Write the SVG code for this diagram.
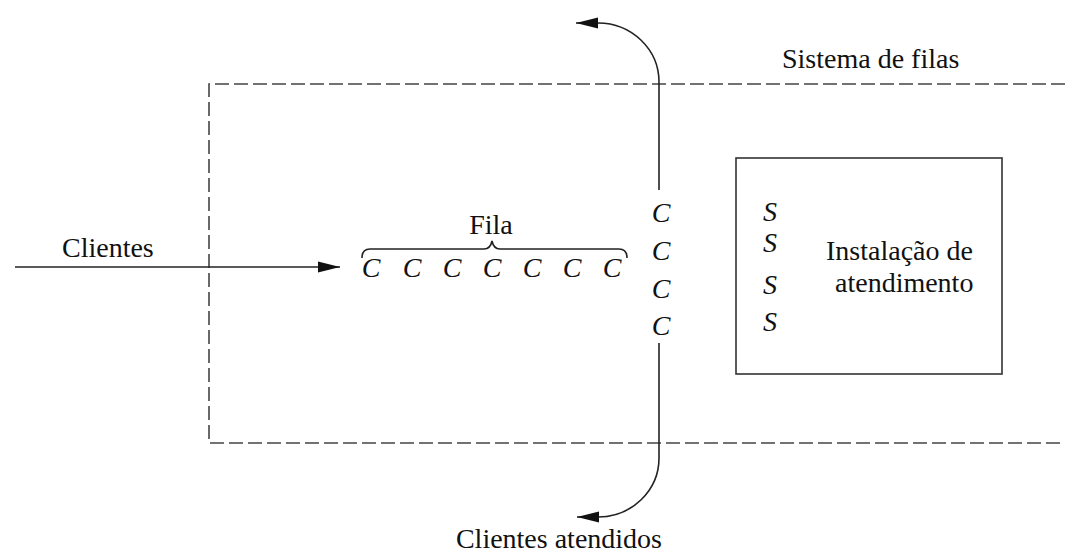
<svg xmlns="http://www.w3.org/2000/svg" width="1065" height="556" viewBox="0 0 1065 556">
<style>
text{font-family:"Liberation Serif","Times New Roman",Times,serif;font-size:28px;fill:#111}
.it{font-style:italic}
.ln{fill:none;stroke:#222;stroke-width:1.6}
.dash{fill:none;stroke:#444;stroke-width:1.6;stroke-dasharray:14 5}
</style>
<defs>
<marker id="ah" markerWidth="24" markerHeight="12" refX="22" refY="6" orient="auto" markerUnits="userSpaceOnUse">
<path d="M0,0.5 L22,6 L0,11.5 Z" fill="#111"/>
</marker>
</defs>
<rect width="1065" height="556" fill="#fff"/>
<g id="sistema">
<path class="dash" d="M1065,84 H209 V443 H1065"/>
<text x="782" y="68">Sistema de filas</text>
</g>
<g id="connectors">
<line class="ln" x1="15" y1="267" x2="340" y2="267" marker-end="url(#ah)"/>
<path class="ln" d="M659,190 V82 A61,59 0 0 0 598,23 H576" marker-end="url(#ah)"/>
<path class="ln" d="M659,343 V458 A61,59 0 0 1 598,517 H577" marker-end="url(#ah)"/>
</g>
<g id="clientes">
<text x="62" y="257">Clientes</text>
</g>
<g id="fila">
<text x="491" y="234" text-anchor="middle">Fila</text>
<path class="ln" stroke-width="1.4" d="M362,258 C362,252 364,249 370,249 H484 C489,249 491,246 492,241 C493,246 495,249 500,249 H619 C625,249 627,252 627,258"/>
<text class="it" x="371" y="277" text-anchor="middle">C</text>
<text class="it" x="412" y="277" text-anchor="middle">C</text>
<text class="it" x="452" y="277" text-anchor="middle">C</text>
<text class="it" x="492" y="277" text-anchor="middle">C</text>
<text class="it" x="532" y="277" text-anchor="middle">C</text>
<text class="it" x="572" y="277" text-anchor="middle">C</text>
<text class="it" x="612" y="277" text-anchor="middle">C</text>
</g>
<g id="atendendo">
<text class="it" x="661" y="222" text-anchor="middle">C</text>
<text class="it" x="661" y="260" text-anchor="middle">C</text>
<text class="it" x="661" y="298" text-anchor="middle">C</text>
<text class="it" x="661" y="335" text-anchor="middle">C</text>
</g>
<g id="instalacao">
<rect x="736" y="158" width="266" height="216" fill="none" stroke="#333" stroke-width="1.6"/>
<text class="it" x="770" y="221" text-anchor="middle">S</text>
<text class="it" x="770" y="252" text-anchor="middle">S</text>
<text class="it" x="770" y="294" text-anchor="middle">S</text>
<text class="it" x="770" y="331" text-anchor="middle">S</text>
<text x="826" y="260">Instalação de</text>
<text x="835" y="292">atendimento</text>
</g>
<g id="atendidos">
<text x="662" y="548" text-anchor="end">Clientes atendidos</text>
</g>
</svg>
